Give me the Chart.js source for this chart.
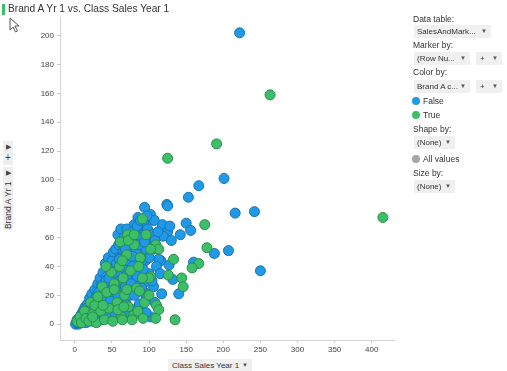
<!DOCTYPE html>
<html>
<head>
<meta charset="utf-8">
<script src="https://cdn.jsdelivr.net/npm/chart.js"></script>
<style>
  body { margin: 0; background: #fff; font-family: "Liberation Sans", Arial, sans-serif; color: #333; }
  #wrap { position: relative; width: 507px; height: 371px; overflow: hidden; }
  #chartBox { position: absolute; left: 0; top: 0; width: 400px; height: 371px; }
  .title { position: absolute; left: 8px; top: 3px; font-size: 10.2px; color: #333; white-space: nowrap; }
  .title-bar { position: absolute; left: 2px; top: 4px; width: 3px; height: 11px; background: #3dbf6a; }
  .lbl { position: absolute; font-size: 8.5px; color: #333; white-space: nowrap; }
  .dd { position: absolute; height: 13px; background: #f0f0f0; font-size: 8px; line-height: 13px; color: #333; white-space: nowrap; box-sizing: border-box; padding-left: 3px; }
  .dd .arr { position: absolute; right: 4px; top: 0; font-size: 6px; color: #555; }
  .dot { position: absolute; width: 8px; height: 8px; border-radius: 50%; }
  .side { position: absolute; background: #efefef; font-size: 7px; color: #444; text-align: center; }
  .vtxt { position: absolute; transform: rotate(-90deg); transform-origin: left top; font-size: 8.5px; color: #333; white-space: nowrap; }
</style>
</head>
<body>
<div id="wrap">
  <div id="chartBox"><canvas id="scatter"></canvas></div>
  <div class="title-bar"></div>
  <div class="title">Brand A Yr 1 vs. Class Sales Year 1</div>
  <svg style="position:absolute;left:9px;top:17px" width="12" height="16" viewBox="0 0 12 16">
    <path d="M1 1 L1 13 L4 10 L6.5 15 L8.5 14 L6 9 L10 9 Z" fill="#fff" stroke="#555" stroke-width="1"/>
  </svg>

  <!-- y axis title controls -->
  <div class="side" style="left:3px;top:141px;width:10px;height:24px;">
    <div style="line-height:11px;">&#9654;</div><div style="line-height:11px;font-size:10px;">+</div>
  </div>
  <div class="side" style="left:3px;top:167px;width:10px;height:63px;">
    <div style="line-height:11px;">&#9654;</div>
  </div>
  <div class="vtxt" style="left:3px;top:229px;">Brand A Yr 1</div>

  <!-- x axis title -->
  <div class="dd" style="left:168px;top:359px;width:84px;height:14px;padding-left:4px;font-size:8px;">Class Sales Year 1<span class="arr">&#9660;</span></div>

  <!-- right panel -->
  <div class="lbl" style="left:413px;top:14px;">Data table:</div>
  <div class="dd" style="left:414px;top:25px;width:77px;">SalesAndMark...<span class="arr">&#9660;</span></div>
  <div class="lbl" style="left:413px;top:40px;">Marker by:</div>
  <div class="dd" style="left:414px;top:52px;width:56px;">(Row Nu...<span class="arr">&#9660;</span></div>
  <div class="dd" style="left:476px;top:52px;width:26px;padding-left:4px;">+<span class="arr">&#9660;</span></div>
  <div class="lbl" style="left:413px;top:67px;">Color by:</div>
  <div class="dd" style="left:414px;top:80px;width:56px;">Brand A c...<span class="arr">&#9660;</span></div>
  <div class="dd" style="left:476px;top:80px;width:26px;padding-left:4px;">+<span class="arr">&#9660;</span></div>
  <div class="dot" style="left:412px;top:97px;background:#209ae6;"></div>
  <div class="lbl" style="left:423px;top:96px;">False</div>
  <div class="dot" style="left:412px;top:111px;background:#3dbf6a;"></div>
  <div class="lbl" style="left:423px;top:110px;">True</div>
  <div class="lbl" style="left:413px;top:124px;">Shape by:</div>
  <div class="dd" style="left:414px;top:136px;width:41px;">(None)<span class="arr">&#9660;</span></div>
  <div class="dot" style="left:412px;top:155px;background:#a6a6a6;"></div>
  <div class="lbl" style="left:423px;top:154px;">All values</div>
  <div class="lbl" style="left:413px;top:168px;">Size by:</div>
  <div class="dd" style="left:414px;top:180px;width:41px;">(None)<span class="arr">&#9660;</span></div>
</div>

<script>
// Brand A Yr 1 vs Class Sales Year 1, colored by "Brand A c..." (False / True)
const falseX = [
  222, 167, 153, 201, 124, 125, 216, 242, 250, 150, 156, 142, 118, 125, 119, 130, 106, 102, 94, 107,
  82, 95, 98, 188, 207, 160, 116, 127, 132, 140, 117, 106, 102, 128, 113, 96,
  2, 4, 5, 6, 8, 9, 10, 11, 12, 13, 14, 15, 16, 17, 18, 19, 20, 21, 22, 23,
  24, 25, 26, 27, 28, 29, 30, 31, 32, 33, 34, 35, 36, 37, 38, 39, 40, 41, 42, 43,
  44, 45, 46, 47, 48, 49, 50, 51, 52, 53, 54, 55, 56, 57, 58, 59, 60, 61, 62, 63,
  64, 65, 66, 67, 68, 69, 70, 71, 72, 73, 74, 75, 76, 77, 78, 79, 80, 81, 82, 83,
  84, 85, 86, 87, 88, 89, 90, 92, 93, 95, 96, 98, 100,
  1, 3, 5, 7, 3, 10, 12, 14, 16, 18, 20, 22, 24, 26, 28, 30, 32, 34, 36, 38,
  40, 42, 44, 46, 48, 50, 52, 54, 56, 58, 60, 62, 64, 66, 68, 70, 72, 74, 76, 78,
  80, 82, 84, 86, 88, 90, 92, 94, 96, 97,
  58, 62, 66, 70, 74, 78, 84, 88, 90, 98, 104, 108, 112, 60, 68, 78, 86, 94, 100, 106,
  110, 115, 92, 84, 76, 104, 108, 96, 90
];
const falseY = [
  202, 96, 88, 101, 83, 82, 77, 78, 37, 70, 65, 62, 69, 64, 61, 58, 72, 76, 81, 72,
  67, 67, 56, 49, 51, 43, 44, 41, 31, 21, 21, 26, 5, 68, 45, 49,
  1, 2, 4, 1, 6, 3, 8, 2, 10, 5, 12, 1, 7, 14, 3, 10, 18, 6, 13, 21,
  2, 9, 16, 24, 4, 12, 20, 28, 7, 15, 32, 24, 3, 11, 36, 19, 27, 42, 8, 33,
  15, 46, 23, 38, 5, 29, 44, 12, 50, 20, 35, 52, 27, 9, 41, 55, 17, 47, 31, 58,
  24, 50, 6, 38, 62, 14, 44, 55, 28, 65, 20, 48, 36, 60, 10, 52, 69, 42, 30, 58,
  22, 74, 47, 14, 63, 37, 55, 28, 70, 44, 18, 60, 35,
  0, 3, 0, 2, 1, 4, 6, 3, 11, 8, 4, 9, 15, 5, 18, 10, 22, 13, 27, 8,
  18, 30, 5, 32, 16, 24, 38, 8, 42, 20, 30, 46, 12, 54, 26, 34, 48, 8, 56, 40,
  20, 50, 64, 30, 8, 44, 62, 22, 52, 75,
  62, 66, 60, 66, 58, 64, 68, 72, 60, 66, 62, 58, 64, 45, 52, 47, 55, 57, 46, 52,
  40, 35, 38, 33, 28, 30, 15, 8, 25
];
const trueX = [
  263, 191, 125, 415, 175, 109, 91, 113, 178, 167, 158, 133, 126, 144, 146, 102, 110, 113, 135, 79,
  89, 100, 109,
  3, 7, 9, 13, 15, 19, 21, 24, 27, 29, 31, 35, 37, 40, 43, 46, 49, 51, 53, 57,
  60, 63, 65, 67, 70, 72, 75, 77, 80, 83, 85, 88, 91, 94, 61, 71, 38, 42, 53, 87, 64, 24,
  72, 80, 96, 64, 102, 86, 70, 58, 92, 100, 66
];
const trueY = [
  159, 125, 115, 74, 69, 55, 73, 52, 53, 42, 39, 45, 34, 32, 26, 33, 13, 10, 3, 6,
  46, 32, 4,
  2, 5, 1, 9, 4, 2, 15, 7, 13, 1, 19, 9, 26, 3, 22, 11, 36, 2, 28, 15,
  40, 5, 32, 20, 48, 12, 37, 3, 55, 25, 9, 46, 32, 15, 57, 62, 13, 40, 24, 23, 3, 5,
  58, 62, 62, 44, 52, 40, 24, 10, 4, 20, 12
];
const xTicks = [0, 50, 100, 150, 200, 250, 300, 350, 400];
const yTicks = [0, 20, 40, 60, 80, 100, 120, 140, 160, 180, 200];

const toPoints = (xs, ys) => xs.map((x, i) => ({ x: x, y: ys[i] }));
const tickFont = { family: "Liberation Sans", size: 8 };

new Chart(document.getElementById("scatter"), {
  type: "scatter",
  data: {
    datasets: [
      { label: "False", data: toPoints(falseX, falseY), order: 2, backgroundColor: "#209ae6", borderColor: "#1873b0", borderWidth: 1, pointRadius: 5 },
      { label: "True", data: toPoints(trueX, trueY), order: 1, backgroundColor: "#3dbf6a", borderColor: "#2b8c4b", borderWidth: 1, pointRadius: 5 }
    ]
  },
  options: {
    responsive: true,
    maintainAspectRatio: false,
    animation: false,
    events: [],
    layout: { padding: { left: 0, top: 17, right: 2, bottom: 0 } },
    plugins: { legend: { display: false }, tooltip: { enabled: false } },
    scales: {
      x: {
        type: "linear", min: -20, max: 430,
        afterBuildTicks: (s) => { s.ticks = xTicks.map(v => ({ value: v })); },
        afterFit: (s) => { s.height = 31; },
        grid: { drawOnChartArea: false, color: "#c8c8c8", tickLength: 3 },
        border: { color: "#d4d4d4" },
        ticks: { font: tickFont, color: "#444", padding: 2, maxRotation: 0 }
      },
      y: {
        type: "linear", min: -11, max: 213,
        afterBuildTicks: (s) => { s.ticks = yTicks.map(v => ({ value: v })); },
        afterFit: (s) => { s.width = 60; },
        grid: { drawOnChartArea: false, color: "#c8c8c8", tickLength: 3 },
        border: { color: "#d4d4d4" },
        ticks: { font: tickFont, color: "#444", padding: 3 }
      }
    }
  }
});
</script>
</body>
</html>
